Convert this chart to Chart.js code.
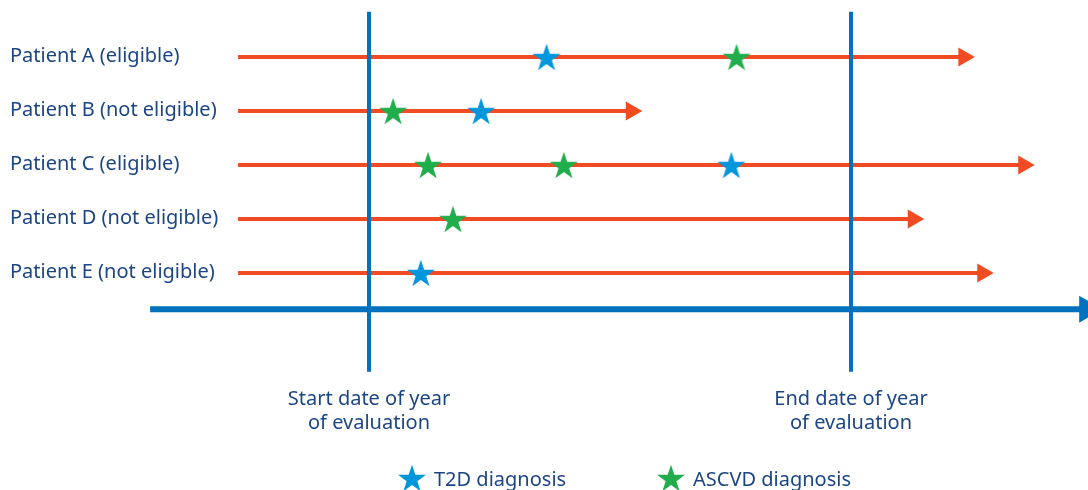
<!DOCTYPE html>
<html>
<head>
<meta charset="utf-8">
<script src="https://cdn.jsdelivr.net/npm/chart.js@4.4.1/dist/chart.umd.min.js"></script>
<style>
  html, body { margin: 0; padding: 0; background: #fff; }
  #wrap { width: 1088px; height: 490px; position: relative; }
</style>
</head>
<body>
<div id="wrap"><canvas id="timeline"></canvas></div>
<script>
// patients, one row each (row 0 at the top)
const patients = ["Patient A (eligible)", "Patient B (not eligible)", "Patient C (eligible)", "Patient D (not eligible)", "Patient E (not eligible)"];
// follow-up in months, relative to the start date of the year of evaluation
const followStart = [-3.26, -3.26, -3.26, -3.26, -3.26];
const followEnd = [14.81, 6.53, 16.30, 13.55, 15.28];
// diagnoses: row index + month
const t2dRow = [0, 1, 2, 4];
const t2dMonth = [4.42, 2.79, 9.02, 1.29];
const ascvdRow = [0, 1, 2, 2, 3];
const ascvdMonth = [9.15, 0.6, 1.47, 4.85, 2.09];
// year of evaluation
const evalStart = 0;
const evalEnd = 12;
const evalLabels = [["Start date of year", "of evaluation"], ["End date of year", "of evaluation"]];
const legendLabels = ["T2D diagnosis", "ASCVD diagnosis"];

const RED = "#f04b23";
const BLUE = "#0071bc";
const STAR_BLUE = "#0096dc";
const STAR_GREEN = "#21ad4b";
const TEXT = "#1c4584";
const FONT = '"Noto Sans", sans-serif';

function makeStar(color) {
    const c = document.createElement("canvas");
    const R = 14.7;
    c.width = 32; c.height = 32;
    const g = c.getContext("2d");
    const cx = 16, cy = 16 + R * (1 - 0.809) / 2;
    g.beginPath();
    for (let i = 0; i < 10; i++) {
        const r = i % 2 === 0 ? R : R * 0.382;
        const a = -Math.PI / 2 + i * Math.PI / 5;
        g.lineTo(cx + r * Math.cos(a), cy + r * Math.sin(a));
    }
    g.closePath();
    g.fillStyle = color;
    g.fill();
    return c;
}
const starBlue = makeStar(STAR_BLUE);
const starGreen = makeStar(STAR_GREEN);

const datasets = [];

// stars on top
datasets.push({
    type: "scatter", label: legendLabels[0], order: 0,
    data: t2dRow.map((r, i) => ({ x: t2dMonth[i], y: r })),
    pointStyle: starBlue
});
datasets.push({
    type: "scatter", label: legendLabels[1], order: 0,
    data: ascvdRow.map((r, i) => ({ x: ascvdMonth[i], y: r })),
    pointStyle: starGreen
});

// evaluation window lines
[evalStart, evalEnd].forEach(m => {
    datasets.push({
        type: "line", order: 1,
        data: [{ x: m, y: -0.84 }, { x: m, y: 5.83 }],
        borderColor: BLUE, borderWidth: 4, pointRadius: 0
    });
});

// follow-up arrows
patients.forEach((p, i) => {
    datasets.push({
        type: "line", order: 2,
        data: [{ x: followStart[i], y: i }, { x: followEnd[i], y: i }],
        borderColor: RED, borderWidth: 4,
        pointRadius: [0, 11], pointStyle: "triangle", rotation: 90,
        pointBackgroundColor: RED, pointBorderWidth: 0
    });
});

// time axis arrow
datasets.push({
    type: "line", order: 3, clip: false,
    data: [{ x: -5.45, y: 4.67 }, { x: 17.875, y: 4.67 }],
    borderColor: BLUE, borderWidth: 6,
    pointRadius: [0, 15.6], pointStyle: "triangle", rotation: 90,
    pointBackgroundColor: BLUE, pointBorderWidth: 0
});

const textPlugin = {
    id: "texts",
    afterDraw(chart) {
        const ctx = chart.ctx;
        const xs = chart.scales.x, ys = chart.scales.y;
        ctx.save();
        ctx.fillStyle = TEXT;
        ctx.textBaseline = "middle";
        ctx.font = "20px " + FONT;
        ctx.textAlign = "left";
        patients.forEach((p, i) => ctx.fillText(p, 10, ys.getPixelForValue(i) - 1));

        ctx.textAlign = "center";
        [evalStart, evalEnd].forEach((m, k) => {
            const x = xs.getPixelForValue(m);
            ctx.fillText(evalLabels[k][0], x, 399);
            ctx.fillText(evalLabels[k][1], x, 423);
        });

        // legend
        ctx.textAlign = "left";
        const legendX = [412, 671];
        [starBlue, starGreen].forEach((img, k) => {
            ctx.drawImage(img, legendX[k] - 16, 478 - 16);
            ctx.fillText(legendLabels[k], legendX[k] + 22, 480);
        });
        ctx.restore();
    }
};

new Chart(document.getElementById("timeline"), {
    type: "line",
    data: { datasets: datasets },
    options: {
        responsive: true,
        maintainAspectRatio: false,
        animation: false,
        events: [],
        layout: { padding: 0, autoPadding: false },
        plugins: { legend: { display: false }, tooltip: { enabled: false } },
        scales: {
            x: { type: "linear", display: false, min: -9.187, max: 17.90 },
            y: { type: "linear", display: false, reverse: true, min: -1.056, max: 8.019 }
        }
    },
    plugins: [textPlugin]
});
</script>
</body>
</html>
